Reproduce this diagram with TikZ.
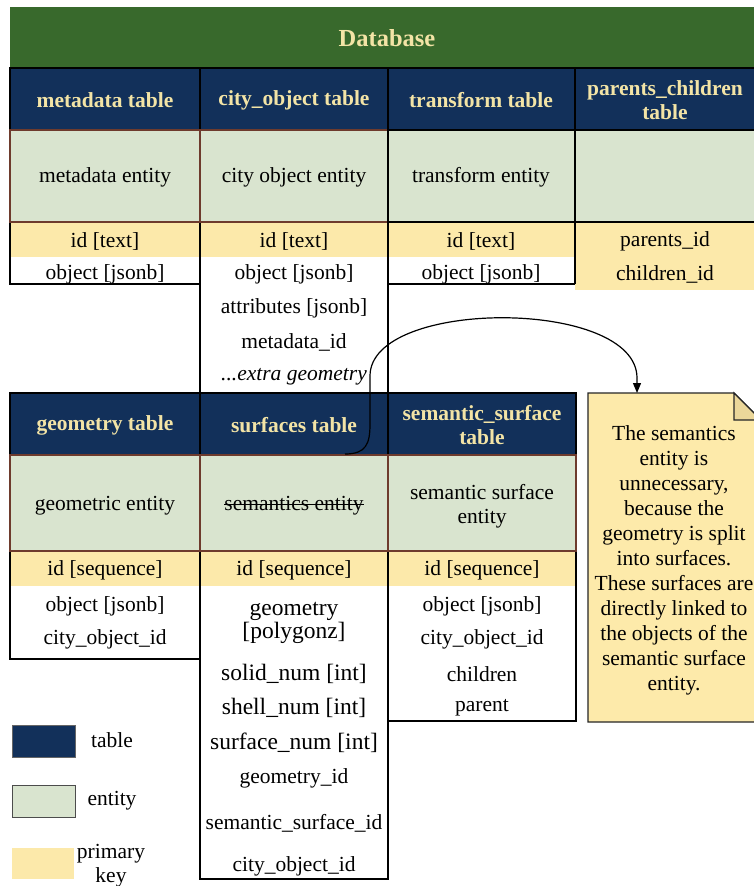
\documentclass[tikz,border=0pt]{standalone}
\usepackage{fontspec}
\setmainfont{Liberation Serif}
\usetikzlibrary{arrows.meta}

\definecolor{dbgreen}{HTML}{38692C}
\definecolor{navy}{HTML}{12305A}
\definecolor{hdrtxt}{HTML}{F3E4A6}
\definecolor{entfill}{HTML}{D9E4CF}
\definecolor{entline}{HTML}{6E3B2D}
\definecolor{keyfill}{HTML}{FCE9AA}
\definecolor{notefill}{HTML}{FDEAAA}
\definecolor{foldfill}{HTML}{EBD79A}

\newcommand\fsN{\fontsize{21.5}{24}\selectfont}
\newcommand\fsB{\fontsize{23.5}{23}\selectfont}
\newcommand\fsD{\fontsize{24.5}{28}\selectfont}

\begin{document}
\begin{tikzpicture}[x=1pt,y=-1pt,
  lbl/.style={inner sep=0pt, align=center, font=\fsN},
  biglbl/.style={inner sep=0pt, align=center, font=\fsB},
  hlbl/.style={inner sep=0pt, align=center, font=\fsN\bfseries, text=hdrtxt},
  hdr/.style={fill=navy, draw=black, line width=1.3pt},
  ent/.style={fill=entfill, draw=entline, line width=1.1pt},
  body/.style={draw=black, line width=1.1pt},
  conn/.style={draw=black, line width=1.2pt, -{Triangle[length=10pt,width=8pt]}},
]
\useasboundingbox (0,0) rectangle (754,886);
\clip (0,0) rectangle (754,886);
\fill[white] (0,0) rectangle (754,886);

% ---------- banner ----------
\fill[dbgreen] (10,7) rectangle (760,68);
\node[hlbl, font=\fsD\bfseries] (db) at (387,38) {Database};

% ---------- upper tables ----------
\foreach \a/\b in {10/200,200/388,388/575,575/760}
  \draw[hdr] (\a,68) rectangle (\b,130);

% metadata table
\fill[white] (10,257) rectangle (200,284);
\fill[keyfill] (10,222) rectangle (200,257);
\draw[body] (10,222) rectangle (200,284);
\draw[ent] (10,130) rectangle (200,222);

% city_object table
\fill[white] (200,257) rectangle (388,393);
\fill[keyfill] (200,222) rectangle (388,257);
\draw[body] (200,222) rectangle (388,393);
\draw[ent] (200,130) rectangle (388,222);

% transform table
\fill[white] (388,257) rectangle (575,284);
\fill[keyfill] (388,222) rectangle (575,257);
\draw[body] (388,222) rectangle (575,284);
\draw[ent, draw=black] (388,130) rectangle (575,222);

% parents_children table
\fill[keyfill] (575,222) rectangle (760,290);
\draw[ent, draw=black] (575,130) rectangle (760,222);
\draw[body] (575,222) -- (575,284);

\node[hlbl] (hmeta)  at (105,100) {metadata table};
\node[hlbl] (hcity)  at (294,100) {city\_object table};
\node[hlbl] (htrans) at (481,100) {transform table};
\node[hlbl] (hpc)    at (665,100) {parents\_children\\table};

\node[lbl] (emeta)  at (105,177) {metadata entity};
\node[lbl] (ecity)  at (294,177) {city object entity};
\node[lbl] (etrans) at (481,177) {transform entity};

\node[lbl] (kmeta)  at (105,241) {id [text]};
\node[lbl] (kcity)  at (294,241) {id [text]};
\node[lbl] (ktrans) at (481,241) {id [text]};
\node[lbl] (kpar)   at (665,241) {parents\_id};

\node[lbl] (ometa)  at (105,274) {object [jsonb]};
\node[lbl] (ocity)  at (294,274) {object [jsonb]};
\node[lbl] (otrans) at (481,274) {object [jsonb]};
\node[lbl] (kchild) at (665,274) {children\_id};

\node[lbl] (acity)  at (294,308) {attributes [jsonb]};
\node[lbl] (mcity)  at (294,342) {metadata\_id};
\node[lbl] (xcity)  at (294,377) {\textit{...extra geometry}};

% ---------- lower tables ----------
\foreach \a/\b in {10/200,200/388,388/576}
  \draw[hdr] (\a,393) rectangle (\b,455);

% geometry table
\fill[white] (10,586) rectangle (200,659);
\fill[keyfill] (10,551) rectangle (200,586);
\draw[body] (10,551) rectangle (200,659);
\draw[ent] (10,455) rectangle (200,551);

% surfaces table
\fill[white] (200,586) rectangle (388,879);
\fill[keyfill] (200,551) rectangle (388,586);
\draw[body] (200,551) rectangle (388,879);
\draw[ent] (200,455) rectangle (388,551);

% semantic_surface table
\fill[white] (388,586) rectangle (576,721);
\fill[keyfill] (388,551) rectangle (576,586);
\draw[body] (388,551) rectangle (576,721);
\draw[ent] (388,455) rectangle (576,551);

\node[hlbl] (hgeom) at (105,425) {geometry table};
\node[hlbl] (hsurf) at (294,425) {surfaces table};
\node[hlbl] (hsem)  at (482,425) {semantic\_surface\\table};

\node[lbl] (egeom) at (105,506) {geometric entity};
\node[lbl] (esurf) at (294,506) {semantics entity};
\draw[line width=0.9pt] ([yshift=1.5pt]esurf.west) -- ([yshift=1.5pt]esurf.east);
\node[lbl] (esem)  at (482,506) {semantic surface\\entity};

\node[lbl] (kgeom) at (105,570) {id [sequence]};
\node[lbl] (ksurf) at (294,570) {id [sequence]};
\node[lbl] (ksem)  at (482,570) {id [sequence]};

\node[lbl] (g1) at (105,606) {object [jsonb]};
\node[lbl] (g2) at (105,639) {city\_object\_id};

\node[biglbl] (s1) at (294,623) {geometry\\[0pt][polygonz]};
\node[biglbl] (s2) at (294,674) {solid\_num [int]};
\node[biglbl] (s3) at (294,708) {shell\_num [int]};
\node[biglbl] (s4) at (294,743) {surface\_num [int]};
\node[lbl]    (s5) at (294,778) {geometry\_id};
\node[lbl]    (s6) at (294,823) {semantic\_surface\_id};
\node[lbl]    (s7) at (294,866) {city\_object\_id};

\node[lbl] (m1) at (482,606) {object [jsonb]};
\node[lbl] (m2) at (482,639) {city\_object\_id};
\node[lbl] (m3) at (482,674) {children};
\node[lbl] (m4) at (482,708) {parent};

% ---------- note ----------
\filldraw[fill=notefill, draw=black!85, line width=1.1pt]
  (588,722) -- (588,393) -- (734,393) -- (761,420) -- (761,722) -- cycle;
\filldraw[fill=foldfill, draw=black!85, line width=1.1pt]
  (734,393) -- (734,420) -- (761,420) -- cycle;
\node[lbl, font=\fontsize{21.5}{25}\selectfont] (notetext) at (674,560)
  {The semantics\\entity is\\unnecessary,\\because the\\geometry is split\\into surfaces.\\These surfaces are\\directly linked to\\the objects of the\\semantic surface\\entity.};

% ---------- connector ----------
\coordinate (curlstart) at (345,454);
\coordinate (notetop) at (637,393);
\draw[conn] (curlstart) .. controls (366,454) and (370,444) .. (370,424)
  -- (370,376) .. controls (370,298) and (637,298) .. (637,378) -- (notetop);

% ---------- legend ----------
\filldraw[fill=navy, draw=black!60, line width=1pt] (12,725) rectangle (75,757);
\filldraw[fill=entfill, draw=black!70, line width=1pt] (12,785) rectangle (75,817);
\fill[keyfill] (12,848) rectangle (74,879);
\node[lbl] (ltab) at (112,740) {table};
\node[lbl] (lent) at (112,801) {entity};
\node[lbl] (lkey) at (111,866) {primary\\key};
\end{tikzpicture}
\end{document}
